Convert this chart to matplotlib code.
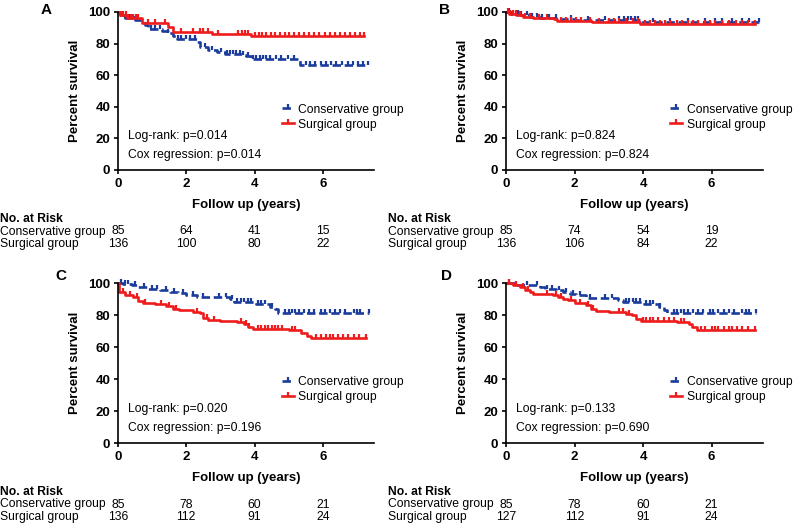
import numpy as np
import matplotlib
matplotlib.use("Agg")
import matplotlib.pyplot as plt
from matplotlib.lines import Line2D
from matplotlib.markers import TICKUP

plt.rcParams['font.family'] = ['Liberation Sans', 'DejaVu Sans']

BLUE = '#1b3c9c'
RED = '#ee1c1c'

# ---- data ----
panels = ['A', 'B', 'C', 'D']
groups = ['Conservative group', 'Surgical group']
risk_times = [0, 2, 4, 6]

# A
a_cons_t = [0, 0.05, 0.2, 0.5, 0.79, 0.89, 1.28, 1.47, 1.62, 1.72, 2.3, 2.4, 2.64, 2.89, 3.13, 3.62, 3.76, 3.9, 5.32]
a_cons_s = [100, 98, 96, 95, 92, 89, 88, 86.5, 84.5, 83, 81, 78, 76, 75, 73.5, 73, 72, 70.5, 66.5]
a_cons_end = 7.32
a_cons_cens = [0.2, 0.35, 0.5, 0.98, 1.08, 1.23, 1.47, 1.76, 1.86, 2.0, 2.1, 2.25, 2.54, 2.74, 3.03, 3.18, 3.28,
               3.37, 3.47, 3.57, 3.66, 3.81, 3.95, 4.05, 4.15, 4.25, 4.35, 4.45, 4.64, 4.78, 4.98, 5.17, 5.5, 5.62,
               5.78, 5.95, 6.1, 6.25, 6.4, 6.55, 6.73, 6.88, 7.03, 7.17, 7.32]
a_surg_t = [0, 0.05, 0.25, 0.69, 1.46, 1.6, 2.74, 3.9]
a_surg_s = [100, 98, 96.5, 93, 90.5, 87.5, 86, 85]
a_surg_end = 7.2
a_surg_cens = [0.08, 0.15, 0.22, 0.3, 0.38, 0.45, 0.52, 0.6, 0.89, 1.08, 1.37, 1.86, 2.2, 2.4, 2.5, 2.64, 2.93,
               3.52, 3.62, 3.71, 3.81, 4.02, 4.12, 4.22, 4.35, 4.48, 4.6, 4.75, 4.88, 5.0, 5.15, 5.3, 5.45, 5.6,
               5.75, 5.9, 6.05, 6.2, 6.35, 6.5, 6.65, 6.8, 6.95, 7.1, 7.2]

# B
b_cons_t = [0, 0.15, 0.4, 0.7, 1.0, 1.5, 2.0, 3.9]
b_cons_s = [100, 99, 98, 97, 96.5, 95.5, 95, 93.5]
b_cons_end = 7.37
b_cons_cens = [0.1, 0.2, 0.35, 0.45, 0.6, 0.75, 0.9, 1.05, 1.25, 1.45, 1.9, 2.4, 2.9, 3.3, 3.45, 3.55, 3.65,
               3.75, 3.85, 4.3, 4.8, 5.3, 5.8, 6.1, 6.3, 6.6, 6.9, 7.1, 7.37]
b_surg_t = [0, 0.1, 0.3, 0.5, 0.8, 1.4, 1.5, 2.5, 3.9]
b_surg_s = [100, 99, 98, 97, 96, 95.5, 94.5, 93.5, 92.5]
b_surg_end = 7.27
b_surg_cens = [0.05, 0.12, 0.2, 0.28, 0.4, 0.55, 0.7, 0.95, 1.2, 1.6, 1.75, 1.9, 2.05, 2.2, 2.45, 2.7, 3.0,
               3.15, 3.3, 3.5, 3.7, 3.85, 4.05, 4.2, 4.35, 4.5, 4.65, 4.8, 5.0, 5.15, 5.3, 5.45, 5.6, 5.8,
               5.95, 6.1, 6.3, 6.5, 6.7, 6.9, 7.05, 7.27]

# C
c_cons_t = [0, 0.15, 0.4, 0.55, 0.88, 1.22, 1.52, 1.76, 2.0, 2.3, 3.27, 3.41, 4.05, 4.44, 4.6, 4.7]
c_cons_s = [100, 99.5, 98.5, 97.5, 96.5, 95.5, 94.5, 93.5, 92.5, 91, 90, 88, 87, 85, 84, 81.5]
c_cons_end = 7.35
c_cons_cens = [0.1, 0.2, 0.3, 0.5, 0.75, 1.0, 1.15, 1.4, 1.65, 1.9, 2.2, 2.5, 2.95, 3.15, 3.35, 3.5, 3.6, 3.7,
               3.8, 3.9, 4.1, 4.2, 4.3, 4.5, 4.9, 5.0, 5.1, 5.2, 5.3, 5.45, 5.6, 5.75, 5.95, 6.05, 6.2, 6.35,
               6.5, 6.65, 6.9, 7.0, 7.1, 7.35]
c_surg_t = [0, 0.02, 0.2, 0.45, 0.6, 0.74, 1.08, 1.42, 1.6, 1.8, 2.2, 2.4, 2.5, 2.64, 2.98, 3.5, 3.7, 3.8,
            3.95, 5.0, 5.36, 5.55, 5.65]
c_surg_s = [100, 94.5, 92.5, 91.3, 89, 87.5, 86.7, 85.4, 84, 83, 82, 81, 78.3, 77, 76.3, 75.6, 74.6, 72.5,
            71.5, 70.4, 68.8, 67, 65.7]
c_surg_end = 7.26
c_surg_cens = [0.15, 0.35, 0.55, 0.8, 1.25, 1.5, 1.7, 2.3, 2.6, 2.8, 3.6, 3.75, 3.85, 4.1, 4.2, 4.3, 4.4, 4.5,
               4.6, 4.7, 4.8, 5.1, 5.2, 5.8, 5.95, 6.1, 6.2, 6.3, 6.45, 6.6, 6.75, 6.9, 7.05, 7.26]

# D
d_cons_t = [0, 0.3, 1.0, 1.13, 1.47, 1.66, 1.86, 2.05, 2.34, 3.26, 3.4, 4.03, 4.46, 4.6, 4.7]
d_cons_s = [100, 99, 97.5, 96.5, 95.4, 94.4, 93.3, 92.3, 90.8, 89.6, 88, 87, 85, 83, 81.5]
d_cons_end = 7.31
d_cons_cens = [0.1, 0.6, 0.9, 1.2, 1.35, 1.55, 1.75, 1.95, 2.15, 2.45, 2.9, 3.1, 3.5, 3.6, 3.7, 3.8, 3.9, 4.1,
               4.2, 4.3, 4.5, 4.9, 5.0, 5.1, 5.2, 5.3, 5.45, 5.6, 5.75, 5.95, 6.05, 6.2, 6.35, 6.5, 6.65, 6.9,
               7.0, 7.1, 7.31]
d_surg_t = [0, 0.2, 0.4, 0.55, 0.7, 0.8, 1.37, 1.52, 1.66, 1.8, 2.0, 2.34, 2.48, 2.63, 3.0, 3.5, 3.69, 3.79,
            3.93, 5.0, 5.33, 5.43, 5.57]
d_surg_s = [100, 98.5, 97.5, 95.8, 94.4, 93.3, 92.3, 91.2, 90.2, 89.2, 87.5, 86, 84, 82.5, 81.9, 80.8, 79.8,
            77.7, 76.3, 75.6, 74.2, 72.5, 70.4]
d_surg_end = 7.27
d_surg_cens = [0.1, 0.3, 0.5, 0.65, 1.2, 1.45, 1.6, 1.9, 2.15, 2.4, 2.55, 3.3, 3.4, 3.6, 4.0, 4.1, 4.2, 4.3,
               4.45, 4.6, 4.75, 4.9, 5.1, 5.2, 5.7, 5.8, 6.0, 6.1, 6.2, 6.35, 6.5, 6.6, 6.75, 6.9, 7.05, 7.27]

logrank_p = ['0.014', '0.824', '0.020', '0.133']
cox_p = ['0.014', '0.824', '0.196', '0.690']

risk_cons = [[85, 64, 41, 15], [85, 74, 54, 19], [85, 78, 60, 21], [85, 78, 60, 21]]
risk_surg = [[136, 100, 80, 22], [136, 106, 84, 22], [136, 112, 91, 24], [127, 112, 91, 24]]

curves = [
    ((a_cons_t, a_cons_s, a_cons_end, a_cons_cens), (a_surg_t, a_surg_s, a_surg_end, a_surg_cens)),
    ((b_cons_t, b_cons_s, b_cons_end, b_cons_cens), (b_surg_t, b_surg_s, b_surg_end, b_surg_cens)),
    ((c_cons_t, c_cons_s, c_cons_end, c_cons_cens), (c_surg_t, c_surg_s, c_surg_end, c_surg_cens)),
    ((d_cons_t, d_cons_s, d_cons_end, d_cons_cens), (d_surg_t, d_surg_s, d_surg_end, d_surg_cens)),
]

# ---- layout (pixels of the 793x523 figure) ----
W, H = 793, 523
fig = plt.figure(figsize=(W / 100, H / 100), dpi=100)

ax_boxes = [(118, 12, 256, 158), (506, 12, 257, 158), (118, 283, 256, 160), (506, 283, 257, 160)]
letter_pos = [(46, 10), (445, 10), (61, 276), (446, 276)]
row_label_x = [0, 388, 0, 388]

styles = [dict(color=BLUE, ls=(0, (3.2, 1.4))), dict(color=RED, ls='-')]


def draw_km(ax, t, s, end, cens, style):
    t = np.asarray(t)
    s = np.asarray(s)
    ax.step(np.append(t, end), np.append(s, s[-1]), where='post', lw=1.9, clip_on=False, **style)
    idx = np.searchsorted(t, cens, side='right') - 1
    ax.plot(cens, s[idx], ls='none', marker=TICKUP, ms=2.8, mew=1.6, color=style['color'], clip_on=False)


for i, name in enumerate(panels):
    x0, y0, w, h = ax_boxes[i]
    ax = fig.add_axes([x0 / W, 1 - (y0 + h) / H, w / W, h / H])
    for (t, s, end, cens), st in zip(curves[i], styles):
        draw_km(ax, t, s, end, cens, st)

    ax.set_xlim(0, 7.5)
    ax.set_ylim(0, 100)
    ax.set_xticks([0, 2, 4, 6])
    ax.set_yticks([0, 20, 40, 60, 80, 100])
    for sp in ['top', 'right']:
        ax.spines[sp].set_visible(False)
    for sp in ['left', 'bottom']:
        ax.spines[sp].set_linewidth(1.2)
    ax.tick_params(length=3, width=1.2, pad=2.5, labelsize=9.5)
    for lab in ax.get_xticklabels() + ax.get_yticklabels():
        lab.set_fontweight('bold')
    ax.set_ylabel('Percent survival', fontsize=9.5, fontweight='bold', labelpad=5)
    ax.set_xlabel('Follow up (years)', fontsize=9.5, fontweight='bold', labelpad=7)

    ax.text(0.039, 0.215, 'Log-rank: p=' + logrank_p[i], transform=ax.transAxes,
            fontsize=8.7, va='center', ha='left')
    ax.text(0.039, 0.095, 'Cox regression: p=' + cox_p[i], transform=ax.transAxes,
            fontsize=8.7, va='center', ha='left')

    handles = [Line2D([], [], marker=TICKUP, ms=2.8, mew=1.6, lw=1.9, **st) for st in styles]
    ax.legend(handles, groups, loc='center left', bbox_to_anchor=(0.62, 0.335), frameon=False,
              fontsize=8.7, handlelength=1.0, handletextpad=0.4, labelspacing=0.25, borderaxespad=0)

    lx, ly = letter_pos[i]
    fig.text(lx / W, 1 - ly / H, name, fontsize=11, fontweight='bold', ha='center', va='center')

    # number at risk table
    bottom = y0 + h
    rx = row_label_x[i] / W
    fig.text(rx, 1 - (bottom + 49) / H, 'No. at Risk', fontsize=8.7, fontweight='bold', va='center')
    fig.text(rx, 1 - (bottom + 61.5) / H, groups[0], fontsize=8.7, va='center')
    fig.text(rx, 1 - (bottom + 74) / H, groups[1], fontsize=8.7, va='center')
    for k, tt in enumerate(risk_times):
        ax.annotate(str(risk_cons[i][k]), xy=(tt, 0), xycoords=('data', 'axes fraction'),
                    xytext=(0, -61.5), textcoords='offset pixels', ha='center', va='center',
                    fontsize=8.7, annotation_clip=False)
        ax.annotate(str(risk_surg[i][k]), xy=(tt, 0), xycoords=('data', 'axes fraction'),
                    xytext=(0, -74), textcoords='offset pixels', ha='center', va='center',
                    fontsize=8.7, annotation_clip=False)

fig.savefig('out.png', dpi=100)
